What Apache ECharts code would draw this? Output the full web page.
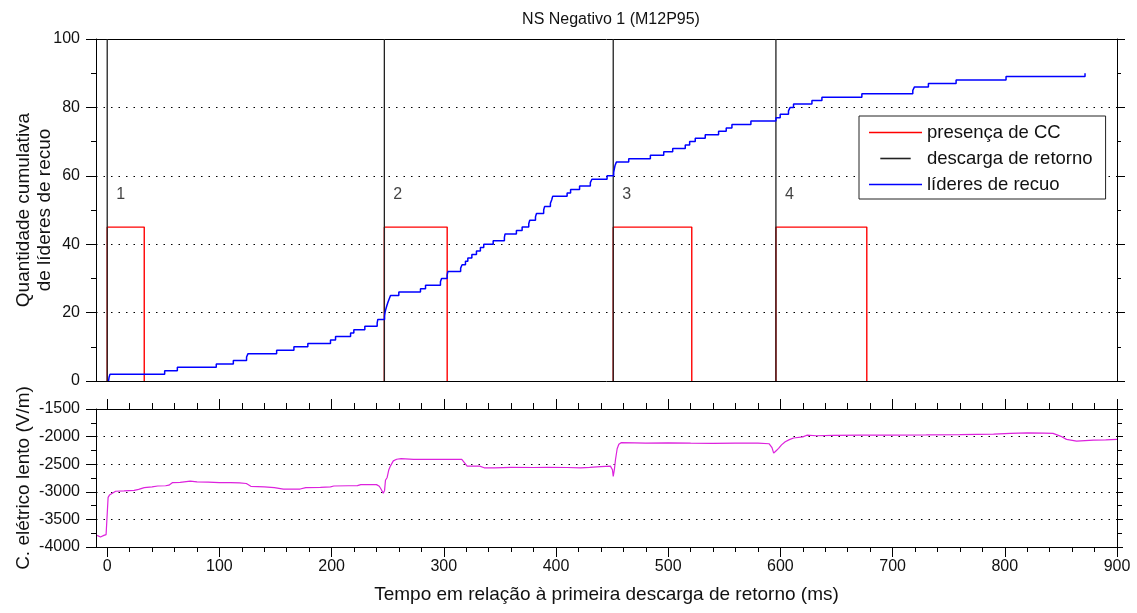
<!DOCTYPE html>
<html>
<head>
<meta charset="utf-8">
<script src="https://cdn.jsdelivr.net/npm/echarts@6/dist/echarts.min.js"></script>
<style>
html,body{margin:0;padding:0;background:#fff;}
#chart{width:1137px;height:613px;}
</style>
</head>
<body>
<div id="chart"></div>
<script>
// ---------------- DATA ----------------
var titleText = 'NS Negativo 1 (M12P95)';
var xName = 'Tempo em relação à primeira descarga de retorno (ms)';
var yNameTop = 'Quantidade cumulativa\nde líderes de recuo';
var yNameBottom = 'C. elétrico lento (V/m)';
var seriesNames = ['presença de CC', 'descarga de retorno', 'líderes de recuo'];

// return strokes (ms)
var strokeTimes = [0, 247, 451, 596];
// end of continuing current (ms)
var ccEndTimes = [33, 303, 521, 677];
var ccLevel = 45;
var strokeLabels = ['1', '2', '3', '4'];
var strokeLabelLevel = 54.5;

// cumulative recoil leaders: [time (ms), count reached at that time]
var recoilTimes = [1.2, 1.6, 2.5, 51.2, 62.5, 97.2, 112.4, 124.2, 125.5, 151, 166.4, 178.8, 199, 203.5, 216.9, 219.8, 229.6, 240.6, 241.2,
  247.2, 247.6, 248.3, 249.2, 250.2, 251.3, 252.5, 259.9, 279.2, 283.7, 297, 298, 303, 303.6, 315, 316.3, 319.3, 321.4, 325, 329.1, 332.6, 335.6,
  344, 354, 354.6, 364.7, 369.8, 375.7, 376.6, 381.7, 382.6, 389, 389.8, 395, 396.2, 397, 409.9, 413, 421, 430.6, 432, 445.5,
  451.4, 452, 452.6, 453.8, 464.8, 484.1, 496, 504, 515.2, 519.1, 524.1, 533, 544.9, 551.7, 556.8, 573.7,
  596, 599.8, 607.2, 608.7, 611.7, 628.1, 637, 672.6, 718, 719.5, 731.9, 756.6, 801.1, 871.5];
var recoilCounts = [0, 1, 2, 3, 4, 5, 6, 7, 8, 9, 10, 11, 12, 13, 14, 15, 16, 17, 18,
  19, 20, 21, 22, 23, 24, 25, 26, 27, 28, 29, 30, 31, 32, 33, 34, 35, 36, 37, 38, 39, 40,
  41, 42, 43, 44, 45, 46, 47, 48, 49, 50, 51, 52, 53, 54, 55, 56, 57, 58, 59, 60,
  61, 62, 63, 64, 65, 66, 67, 68, 69, 70, 71, 72, 73, 74, 75, 76,
  77, 78, 79, 80, 81, 82, 83, 84, 85, 86, 87, 88, 89, 90];

// slow electric field: time (ms), field (V/m)
var fieldTimes = [-9, -6, -3, -1, 0.2, 0.8, 2, 3.5, 7.5, 15, 24, 28, 33, 40, 45, 52, 55, 58, 65, 74, 80, 90, 100, 110, 118, 124, 128,
  140, 149, 157, 165, 172, 177, 190, 199, 202, 215, 223, 226, 240, 242.5, 244, 246, 247.2, 248, 249.5, 251, 252.5, 255, 258, 262,
  273, 290, 316, 320.8, 332, 336, 345, 360, 380, 392, 410, 422, 430, 440, 448.5, 450.3, 451, 452, 453, 454.5, 456, 458,
  470, 480, 500, 520, 540, 560, 580, 590, 592.5, 594, 596, 598.4, 601, 604.3, 608, 611.7, 620, 623.6, 632, 647, 671, 700,
  730, 760, 790, 805, 820, 835, 843, 850, 855, 864, 879, 890, 900];
var fieldValues = [-3790, -3818, -3790, -3775, -3760, -3100, -3060, -3030, -2990, -2985, -2975, -2955, -2925, -2910, -2895, -2890, -2880, -2835, -2830, -2805, -2820, -2825, -2835, -2832, -2840, -2850, -2900,
  -2910, -2925, -2950, -2950, -2950, -2925, -2920, -2910, -2895, -2890, -2888, -2870, -2870, -2900, -2950, -3025, -2975, -2790, -2740, -2600, -2530, -2440, -2410, -2400,
  -2412, -2414, -2414, -2535, -2535, -2565, -2565, -2558, -2560, -2555, -2560, -2565, -2558, -2545, -2535, -2600, -2720, -2600, -2420, -2220, -2140, -2110,
  -2115, -2120, -2115, -2120, -2122, -2120, -2118, -2130, -2200, -2300, -2260, -2214, -2150, -2093, -2055, -2025, -2005, -1975, -1985, -1978, -1972, -1972,
  -1970, -1966, -1955, -1942, -1932, -1938, -1942, -1995, -2050, -2081, -2063, -2060, -2051];

// axis ticks
var xTickValues = [0, 100, 200, 300, 400, 500, 600, 700, 800, 900];
var xMinorStep = 20;
var xMin = -10, xMax = 900;
var yTopMin = 0, yTopMax = 100, yTopStep = 20;
var yBotMin = -4000, yBotMax = -1500, yBotStep = 500;

// ---------------- BUILD ----------------
var FONT = 'Liberation Sans, Arial, sans-serif';
var TXT = '#111';
var xMinorValues = [];
for (var v = xMin; v <= xMax; v++) {
  if (v % xMinorStep === 0 && v % 100 !== 0) xMinorValues.push(v);
}
function zip(a, b) { return a.map(function (x, i) { return [x, b[i]]; }); }
function plain(v) { return String(v); }

var blackLine = { color: '#000', width: 1 };
var dotted = { show: true, lineStyle: { color: '#000', type: [1.5, 6], width: 1 }, showMinLine: false, showMaxLine: false };

function xAx(grid, pos, opts) {
  var base = {
    type: 'value', gridIndex: grid, position: pos, min: xMin, max: xMax,
    axisLine: { show: true, onZero: false, lineStyle: blackLine },
    axisTick: { show: false }, axisLabel: { show: false }, splitLine: { show: false }
  };
  return Object.assign(base, opts || {});
}

var xAxes = [
  xAx(0, 'bottom'),
  xAx(0, 'top'),
  xAx(1, 'bottom', {
    axisTick: { show: true, customValues: xTickValues, length: 10, inside: false, lineStyle: blackLine },
    axisLabel: { show: true, customValues: xTickValues, margin: 12, fontSize: 16, color: TXT, fontFamily: FONT, formatter: plain },
    name: xName, nameLocation: 'middle', nameGap: 38, nameMoveOverlap: false,
    nameTextStyle: { fontSize: 19, color: TXT, fontFamily: FONT }
  }),
  xAx(1, 'bottom', { axisTick: { show: true, customValues: xMinorValues, length: 5, lineStyle: blackLine } }),
  xAx(1, 'top', { axisTick: { show: true, customValues: xTickValues, length: 10, lineStyle: blackLine } }),
  xAx(1, 'top', { axisTick: { show: true, customValues: xMinorValues, length: 6, lineStyle: blackLine } })
];

var yAxes = [
  {
    type: 'value', gridIndex: 0, position: 'left', min: yTopMin, max: yTopMax, interval: yTopStep,
    axisLine: { show: true, onZero: false, lineStyle: blackLine },
    axisTick: { show: true, length: 10, lineStyle: blackLine },
    minorTick: { show: true, splitNumber: 2, length: 5, lineStyle: blackLine },
    axisLabel: { fontSize: 16, color: TXT, margin: 16, fontFamily: FONT, formatter: plain },
    splitLine: dotted,
    name: yNameTop, nameLocation: 'middle', nameGap: 41, nameRotate: 90, nameMoveOverlap: false,
    nameTextStyle: { fontSize: 19, lineHeight: 21, color: TXT, fontFamily: FONT, align: 'center' }
  },
  {
    type: 'value', gridIndex: 0, position: 'right', min: yTopMin, max: yTopMax, interval: yTopStep,
    axisLine: { show: true, onZero: false, lineStyle: blackLine },
    axisTick: { show: true, length: 8, lineStyle: blackLine },
    minorTick: { show: true, splitNumber: 2, length: 4, lineStyle: blackLine },
    axisLabel: { show: false }, splitLine: { show: false }
  },
  {
    type: 'value', gridIndex: 1, position: 'left', min: yBotMin, max: yBotMax, interval: yBotStep,
    axisLine: { show: true, onZero: false, lineStyle: blackLine },
    axisTick: { show: true, length: 10, lineStyle: blackLine },
    minorTick: { show: true, splitNumber: 2, length: 5, lineStyle: blackLine },
    axisLabel: { fontSize: 16, color: TXT, margin: 16, fontFamily: FONT, formatter: plain },
    splitLine: dotted,
    name: yNameBottom, nameLocation: 'middle', nameGap: 63, nameRotate: 90, nameMoveOverlap: false,
    nameTextStyle: { fontSize: 19, color: TXT, fontFamily: FONT }
  },
  {
    type: 'value', gridIndex: 1, position: 'right', min: yBotMin, max: yBotMax, interval: yBotStep,
    axisLine: { show: true, onZero: false, lineStyle: blackLine },
    axisTick: { show: true, length: 6, lineStyle: blackLine },
    minorTick: { show: true, splitNumber: 2, length: 5, lineStyle: blackLine },
    axisLabel: { show: false }, splitLine: { show: false }
  }
];

var series = [];
strokeTimes.forEach(function (s, i) {
  series.push({
    name: seriesNames[0], type: 'line', xAxisIndex: 0, yAxisIndex: 0, symbol: 'none', silent: true,
    lineStyle: { color: '#ff0000', width: 1.4 }, itemStyle: { color: '#ff0000' }, z: 2,
    data: [[s, 0], [s, ccLevel], [ccEndTimes[i], ccLevel], [ccEndTimes[i], 0]]
  });
});
strokeTimes.forEach(function (s) {
  series.push({
    name: seriesNames[1], type: 'line', xAxisIndex: 0, yAxisIndex: 0, symbol: 'none', silent: true,
    lineStyle: { color: '#222', width: 1.3 }, itemStyle: { color: '#222' }, z: 3,
    data: [[s, yTopMin], [s, yTopMax]]
  });
});
series.push({
  name: seriesNames[2], type: 'line', xAxisIndex: 0, yAxisIndex: 0, symbol: 'none', step: 'end', silent: true,
  lineStyle: { color: '#0000ff', width: 1.5 }, itemStyle: { color: '#0000ff' }, z: 4,
  data: zip(recoilTimes, recoilCounts)
});
series.push({
  type: 'scatter', xAxisIndex: 0, yAxisIndex: 0, symbolSize: 0, silent: true, z: 5,
  data: strokeTimes.map(function (s, i) { return { value: [s + 12, strokeLabelLevel], name: strokeLabels[i] }; }),
  label: { show: true, position: 'inside', formatter: '{b}', fontSize: 16, color: TXT, fontFamily: FONT }
});
series.push({
  type: 'line', xAxisIndex: 2, yAxisIndex: 2, symbol: 'none', silent: true,
  lineStyle: { color: '#dd22dd', width: 1.2 },
  data: zip(fieldTimes, fieldValues)
});

var lineIcon = 'rect';
var option = {
  animation: false,
  backgroundColor: '#fff',
  title: {
    text: titleText, left: 606, top: 7, textAlign: 'center',
    textStyle: { fontSize: 16, fontWeight: 'normal', color: TXT, fontFamily: FONT }
  },
  legend: {
    data: [
      { name: seriesNames[0], icon: lineIcon, itemStyle: { color: '#ff0000' } },
      { name: seriesNames[1], icon: 'path://M0,0H38V2H0Z', itemStyle: { color: '#222' } },
      { name: seriesNames[2], icon: lineIcon, itemStyle: { color: '#0000ff' } }
    ],
    orient: 'vertical', left: 859, top: 116,
    itemWidth: 53, itemHeight: 1.6, itemGap: 5,
    padding: [6, 13, 4, 10],
    backgroundColor: '#fff', borderColor: '#222', borderWidth: 1, borderRadius: 0,
    textStyle: { fontSize: 18.5, color: TXT, fontFamily: FONT, lineHeight: 21 },
    selectedMode: false
  },
  grid: [
    { left: 96, right: 20, top: 39, height: 342, outerBoundsMode: 'none', containLabel: false },
    { left: 96, right: 20, top: 409, height: 138, outerBoundsMode: 'none', containLabel: false }
  ],
  xAxis: xAxes,
  yAxis: yAxes,
  series: series
};

var chart = echarts.init(document.getElementById('chart'), null, { renderer: 'canvas' });
chart.setOption(option);
</script>
</body>
</html>
